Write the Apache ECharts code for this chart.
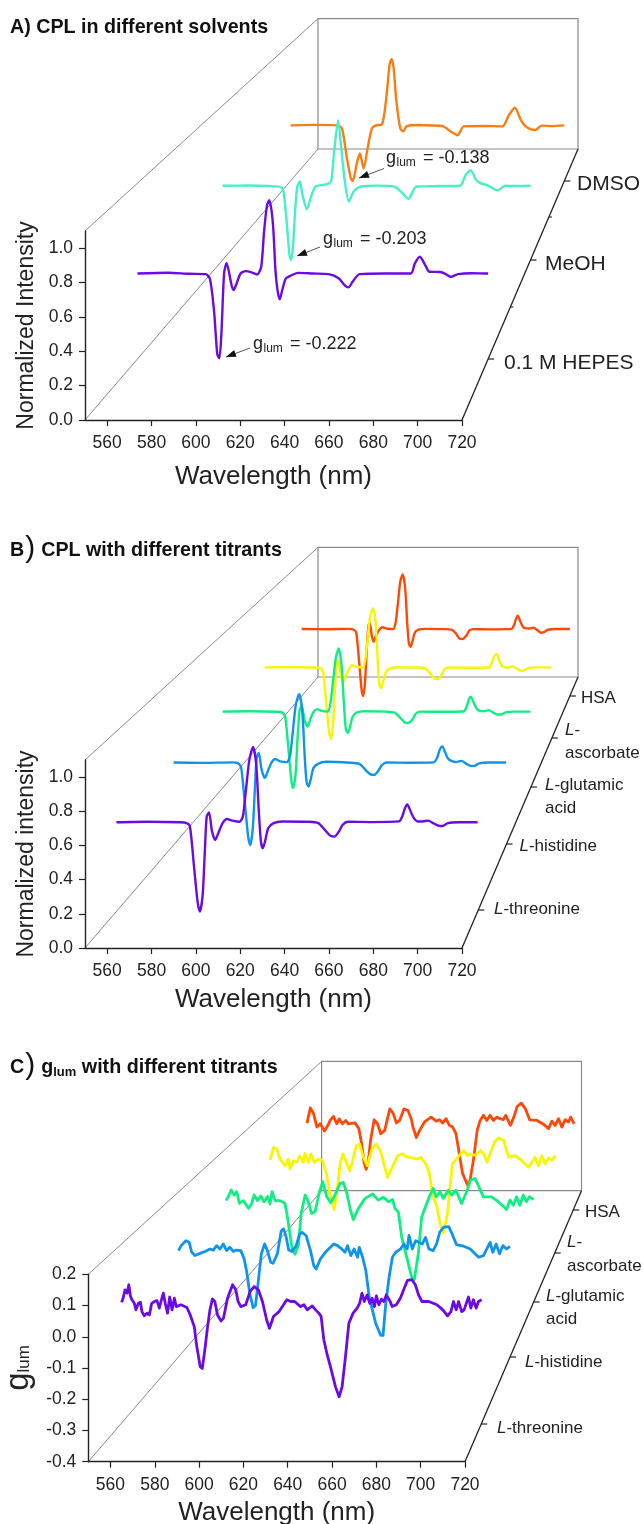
<!DOCTYPE html>
<html><head><meta charset="utf-8">
<style>html,body{margin:0;padding:0;background:#fff}#c{width:644px;height:1524px}</style>
<script src="https://cdn.jsdelivr.net/npm/echarts@6/dist/echarts.min.js"></script>
</head><body><div id="c"></div>
<script>
const xTicks=[560,580,600,620,640,660,680,700,720];
const intensityTicks=[0,0.2,0.4,0.6,0.8,1.0];
const glumTicks=[-0.4,-0.3,-0.2,-0.1,0,0.1,0.2];

// Panel A (wavelength nm, normalized intensity)
const hepes=[[550,.535],[565,.54],[575,.533],[583,.531],[585.1,.504],[587.1,.306],[588.7,.03],[589.7,.004],[590.7,.16],[592,.535],[593.2,.60],[594.2,.556],[595.6,.4625],[596.6,.431],[597.8,.4625],[600,.535],[602.4,.55],[605,.544],[608,.529],[610,.577],[611.4,.80],[612.8,.96],[613.9,.994],[615,.93],[615.9,.806],[616.9,.556],[617.9,.431],[619,.373],[620.2,.431],[621.9,.504],[623.9,.519],[627.8,.539],[635,.535],[642.7,.531],[647.7,.504],[650.5,.46],[652.3,.448],[654.3,.483],[657.7,.531],[670,.535],[682.5,.535],[684.5,.598],[686.9,.64],[689.5,.5875],[691.5,.546],[696.8,.544],[699.5,.531],[702,.514],[705.4,.531],[712,.537],[719.4,.535],[720,.535]];
const meoh=[[550,.529],[565,.531],[575,.527],[582.2,.519],[583.8,.476],[585.6,.238],[587,.03],[587.9,0],[588.9,.1],[589.9,.32],[591.2,.52],[592.7,.559],[594,.47],[596.5,.362],[599.2,.464],[601.4,.524],[608.3,.543],[610.1,.571],[611.7,.786],[613.8,.995],[615.6,.786],[617.4,.571],[619.7,.416],[622.4,.488],[626.5,.524],[635,.53],[644.7,.524],[649.2,.479],[652.6,.436],[657.1,.524],[670,.527],[681,.529],[684.3,.607],[687,.638],[690,.571],[692.3,.548],[696.9,.529],[701.9,.495],[706,.529],[713,.527],[720,.529]];
const dmso=[[550,.446],[565,.45],[578.9,.446],[582,.42],[585.2,.167],[587.5,.02],[588.6,0],[590,.06],[591.1,.14],[593.1,.22],[595.4,.10],[598,.273],[600.5,.42],[603,.446],[606.8,.454],[609.3,.645],[611.5,.93],[612.7,.977],[614,.91],[615.7,.645],[618.2,.42],[620,.398],[622,.438],[629.7,.449],[637,.445],[644.9,.438],[649.9,.393],[653.8,.367],[657.6,.438],[670,.441],[681.6,.438],[685.5,.526],[689.3,.587],[693.1,.486],[696.9,.428],[702,.409],[705.8,.444],[712,.44],[720,.446]];

// Panel B (wavelength nm, normalized intensity)
const cplThreonine=[[550,.545],[565,.548],[580,.545],[583,.54],[584.6,.52],[586.5,.28],[588.2,.06],[589.3,0],[590.6,.1],[591.6,.36],[592.5,.58],[593.6,.605],[595,.49],[596.5,.437],[598,.48],[600,.54],[602,.565],[604.5,.555],[608,.548],[609.5,.58],[610.8,.72],[612.5,.92],[614.3,1.005],[615.8,.9],[617,.62],[618,.43],[618.9,.386],[620,.43],[621.5,.51],[624,.54],[628,.55],[640,.548],[645,.54],[648,.50],[650.5,.465],[652.6,.457],[654.8,.49],[656.5,.53],[659,.548],[670,.546],[683,.55],[684.5,.58],[685.8,.63],[686.9,.654],[688.5,.61],[690,.57],[691.8,.55],[694,.55],[696.8,.555],[699,.54],[701.5,.525],[703.5,.522],[706,.54],[711,.545],[720,.545]];
const cplHistidine=[[550,.547],[565,.545],[580,.548],[583,.542],[584.6,.51],[586.5,.27],[588.2,.05],[589.2,0],[590.5,.11],[591.6,.38],[592.5,.58],[593.6,.61],[595,.50],[596.7,.445],[598.2,.49],[600,.545],[602,.57],[604.5,.555],[608,.55],[609.5,.59],[610.8,.73],[612.5,.93],[614.2,1.0],[615.8,.89],[617,.6],[618,.42],[619,.388],[620.2,.44],[621.5,.51],[624,.54],[628,.552],[640,.546],[645,.538],[648,.50],[650.5,.47],[652.6,.465],[654.8,.495],[656.5,.53],[659,.547],[670,.546],[683,.548],[684.8,.58],[686,.63],[687.4,.654],[689,.61],[690.5,.57],[692.3,.556],[694.5,.55],[697.2,.558],[699.5,.54],[701.8,.525],[703.8,.525],[706.2,.542],[711,.547],[720,.547]];
const cplGlutamic=[[550,.547],[565,.55],[580,.546],[583,.54],[584.6,.51],[586.5,.26],[588,.05],[589,0],[590.3,.1],[591.5,.38],[592.6,.56],[593.7,.59],[595.2,.49],[597,.44],[598.6,.50],[600.5,.55],[602.3,.565],[604.5,.552],[608,.548],[609.5,.6],[610.8,.74],[612.5,.93],[614.1,1.0],[615.7,.88],[617,.6],[618.1,.42],[619.2,.395],[620.4,.44],[621.8,.51],[624,.54],[628,.55],[640,.547],[645,.54],[648,.505],[650.5,.47],[652.5,.466],[654.8,.49],[656.5,.53],[659,.547],[670,.546],[683,.548],[684.8,.585],[686,.635],[687,.654],[688.7,.61],[690.2,.57],[692,.552],[694.5,.55],[697,.558],[699.5,.54],[701.8,.526],[703.8,.526],[706.2,.542],[711,.547],[720,.547]];
const cplAscorbate=[[550,.551],[565,.553],[580,.55],[583,.545],[584.6,.52],[586.5,.27],[588.2,.05],[589.3,0],[590.5,.11],[591.6,.37],[592.6,.58],[593.6,.60],[595.2,.49],[596.5,.44],[598.2,.49],[600,.54],[602,.567],[604.5,.556],[608,.55],[609.5,.6],[610.8,.74],[612.5,.94],[614.2,1.005],[615.8,.89],[617,.6],[618,.42],[619,.39],[620.2,.44],[621.7,.51],[624,.54],[628,.552],[640,.55],[645,.544],[648,.505],[650.5,.468],[652.6,.46],[654.8,.492],[656.5,.535],[659,.55],[670,.548],[683,.55],[684.6,.585],[686,.635],[687.6,.654],[689.2,.6],[690.7,.56],[692.3,.552],[694.5,.55],[697,.56],[699.5,.54],[701.8,.525],[703.8,.526],[706,.545],[711,.551],[720,.551]];
const cplHsa=[[550,.551],[565,.549],[580,.552],[583,.545],[584.6,.52],[586.5,.27],[588,.05],[589,0],[590.2,.12],[591.3,.4],[592.4,.58],[593.2,.60],[594.4,.5],[595.6,.447],[597.2,.5],[599,.54],[601,.565],[604.5,.553],[608,.55],[609.5,.6],[610.8,.74],[612.5,.94],[614,1.0],[615.6,.89],[616.9,.6],[618,.43],[619,.405],[620.2,.45],[621.7,.52],[624,.545],[628,.552],[640,.55],[645,.545],[648,.51],[650,.472],[652,.469],[654.3,.495],[656.3,.54],[659,.55],[670,.548],[683,.552],[684.8,.59],[686,.64],[687,.66],[688.7,.61],[690.2,.57],[692,.556],[694.5,.555],[697,.562],[699.5,.54],[701.7,.52],[703.8,.528],[706,.545],[711,.551],[720,.551]];

// Panel C (wavelength nm, g_lum)
const gThreonine=[[550,.004],[550.7,.018],[551.6,.046],[552.6,.035],[553.4,.063],[554.2,.024],[554.9,.013],[556,.001],[556.8,-.021],[557.9,.001],[558.9,.004],[559.6,-.027],[560.7,-.041],[562,-.032],[563.1,-.038],[564.2,.001],[565.5,.007],[566.7,.010],[567.8,-.015],[568.6,.007],[569.7,.035],[570.6,.001],[571.7,-.032],[572.7,.022],[573.8,-.021],[574.9,.018],[575.8,-.010],[578,-.004],[580.8,-.013],[582.4,-.038],[584.3,-.077],[585.5,-.144],[587.1,-.211],[588.1,-.217],[589.3,-.155],[590.6,-.077],[591.7,-.021],[592.9,.016],[594,.007],[595.3,-.038],[596.9,-.058],[598.1,-.049],[600,.018],[602.4,.063],[603.9,.046],[605,.007],[606.3,-.010],[608.6,-.004],[610.7,.041],[612.6,.057],[614.6,.046],[616.5,.007],[618.5,-.055],[619.8,-.083],[621.7,-.043],[624.3,-.027],[628,.013],[629.8,.007],[631.7,.007],[634.5,-.010],[636.1,-.004],[637.6,-.021],[640,-.008],[641.6,-.021],[643.1,-.032],[644.2,-.043],[645.5,-.122],[647.1,-.172],[648.6,-.211],[651,-.279],[652.7,-.312],[654.1,-.279],[655.7,-.178],[657.3,-.066],[659.3,-.032],[661.2,-.015],[662.4,.001],[663.5,.035],[664.6,.007],[665.9,.029],[667.2,.001],[668.3,.018],[669.4,-.010],[670.3,.026],[671.5,-.004],[672.7,.015],[673.8,.007],[675,.029],[676.6,.010],[677.8,-.010],[679.7,-.004],[681.6,.018],[683.5,.052],[685,.078],[687.1,.080],[688.7,.063],[690.2,.029],[691.8,.007],[695,.007],[698.9,-.004],[701.7,-.021],[703.9,-.041],[705.5,-.027],[706.7,.007],[708,-.021],[709.1,.007],[710.6,-.027],[711.7,-.021],[713.8,.022],[714.9,-.015],[716.1,.013],[717.4,-.015],[718.5,.007],[720,.013]];
const gHistidine=[[550,-.013],[551.4,.005],[553.8,.023],[555.5,.017],[556.8,-.019],[558.5,-.031],[561.1,-.023],[563.6,-.016],[566.2,-.007],[567.9,-.011],[569.6,.005],[571.3,-.007],[573,.011],[574.7,-.013],[576.4,-.001],[578.1,-.016],[579.8,-.011],[582,-.013],[583.7,-.043],[584.9,-.086],[586.6,-.170],[588.3,-.221],[589.5,-.213],[590.8,-.134],[592.5,-.025],[594.2,.011],[595.6,-.013],[597.3,-.055],[598.5,-.059],[600.7,-.025],[602.7,.059],[603.9,.066],[605.3,.035],[606.5,-.011],[608.2,-.016],[610.4,.005],[612.1,.047],[613.4,.053],[615.5,.041],[617.7,-.013],[619.4,-.068],[620.6,-.080],[622.8,-.043],[625.7,-.016],[629.6,.011],[631.6,.005],[633.7,-.007],[635.4,-.019],[636.7,.005],[638.4,-.031],[640.1,-.007],[641.8,-.037],[642.7,-.001],[644.4,-.037],[646.1,-.086],[647.8,-.182],[651.2,-.279],[653.7,-.321],[654.9,-.321],[656.3,-.206],[658,-.110],[659.7,-.037],[661.4,-.019],[663.9,-.007],[665.6,.011],[667.3,-.007],[668.2,.042],[669.9,-.007],[671.6,.023],[673.3,.017],[675,.011],[676.7,.035],[678.4,-.007],[680.6,-.013],[682.3,.011],[684,.054],[686,.072],[688.6,.074],[690.3,.048],[692.5,.009],[696.2,.003],[699.6,-.007],[703.9,-.037],[706.4,-.031],[708.1,-.007],[709.8,.017],[711.2,-.019],[712.9,.011],[714.6,-.025],[716.3,.005],[718.3,-.007],[720,.002]];
const gGlutamic=[[550,-.004],[551.3,.012],[552.8,.038],[554.5,.018],[555.9,.031],[557.4,-.015],[559.6,-.004],[562.4,-.034],[564.2,-.015],[565.5,.018],[567.3,-.004],[569.2,.014],[571,-.008],[572.9,.012],[574.3,-.017],[575.4,.031],[577.1,-.004],[579.9,-.004],[582.6,-.015],[583.9,-.067],[585,-.120],[586.3,-.185],[588.1,-.214],[590,-.178],[591.5,-.054],[593.7,.018],[595.1,-.002],[597.3,-.054],[599.2,-.047],[601.4,.025],[603.4,.070],[605.6,.012],[607.8,-.012],[610.2,.018],[613,.064],[614.8,.067],[616.7,.025],[618.5,-.034],[620.3,-.078],[623.1,-.035],[626.8,.005],[631,.022],[634.1,-.002],[636.9,.009],[639.7,-.008],[642,.001],[643.3,-.035],[645.2,-.048],[647,-.146],[649.8,-.225],[652.5,-.303],[654,-.314],[656.2,-.212],[658.1,-.067],[660.5,-.022],[662.7,.018],[664.5,.044],[666,.011],[668.2,.031],[670,.005],[672.8,.037],[674.6,.018],[677,.037],[680.1,-.015],[682.9,.031],[685.1,.077],[687.5,.083],[689.3,.057],[692.1,.011],[696.7,.011],[700.4,-.008],[705,-.039],[706.8,-.002],[708.7,-.022],[710.5,.011],[712.3,-.022],[714.2,.018],[716,-.008],[717.5,.011],[720,.001]];
const gAscorbate=[[550.3,-.016],[552.3,.037],[554.2,.030],[556.2,-.012],[559.2,-.040],[561.1,-.012],[562.1,-.054],[564.1,-.019],[566.1,-.026],[568,.002],[570,-.026],[571,.012],[573,-.026],[574.5,.009],[576.5,-.026],[578.9,-.012],[581.4,-.019],[583.8,-.075],[585.8,-.159],[588.3,-.226],[590.1,-.145],[592,-.026],[593.6,.009],[595.6,-.026],[597.6,-.061],[599.1,-.026],[601.5,.044],[603.5,.051],[605.4,.002],[608,-.04],[610.8,.030],[613.3,.051],[615.9,.023],[618.2,-.040],[620,-.09],[622.7,-.050],[626.1,.002],[629,.01],[631,-.002],[637.9,-.012],[639.9,-.005],[642.9,-.033],[644.8,-.068],[646.8,-.159],[649.4,-.215],[651.5,-.29],[653.3,-.324],[655.7,-.243],[658.6,-.033],[661.2,-.012],[663.5,.010],[665.5,.024],[667.5,.003],[669.4,.010],[672.4,.003],[675.4,.024],[677.3,.010],[679.3,-.026],[681.3,.016],[684.2,.066],[686.2,.077],[689.1,.066],[692.1,-.004],[696,.002],[700,-.019],[703.9,-.047],[705.9,-.026],[707.8,-.005],[709.8,-.04],[711.8,.002],[713.7,-.033],[715.7,-.008],[717.7,-.016],[720,.002]];
const gHsa=[[550.2,-.017],[552.3,.052],[554.4,.025],[556.5,-.035],[558.6,-.020],[561.3,-.053],[563.4,-.028],[564.9,-.005],[567,.013],[569.1,-.020],[570.6,.002],[572.7,-.020],[574.8,-.005],[576.5,-.020],[580.7,-.016],[583.2,-.042],[584.9,-.109],[586.6,-.199],[587.8,-.226],[589.1,-.191],[590.6,-.095],[592.9,-.002],[595,-.020],[597.1,-.065],[599.6,-.050],[602.8,.047],[604.9,.028],[607,-.016],[609.1,-.005],[611.8,.047],[614.4,.04],[616.5,.002],[617.6,-.035],[619.7,-.082],[621.8,-.050],[624.9,-.012],[629.1,.010],[632.3,-.008],[634.4,-.002],[636.5,-.017],[638.6,.003],[640.7,-.027],[642.8,-.035],[644.9,-.064],[647,-.154],[649.1,-.244],[652.2,-.296],[653.9,-.274],[656,-.184],[658.4,-.05],[660.3,-.005],[662.4,.018],[664.5,-.005],[666.6,.018],[668.7,-.005],[670.8,.010],[672.9,.003],[675,-.002],[676.5,.018],[679.6,-.027],[681.7,.010],[683.8,.058],[686.4,.073],[689.1,.047],[691.8,-.002],[696.5,-.005],[700.7,-.023],[703.8,-.042],[705.9,-.008],[708,-.027],[710.1,.003],[712.2,-.035],[714.3,-.002],[716.4,-.012],[717.9,.010],[720,-.02]];

const FONT='"Liberation Sans",Arial,sans-serif';
const cPurple='#6a0ae6',cBlue='#0f94ee',cGreen='#0cf080',cYellow='#f6f600',cRed='#ff4808',cOrange='#fb7d12',cCyan='#45efc8';

const panelA={x0:85,x1:462,bx0:318,bx1:578,fy:420,by:149,h:189,ymin:0,ymax:1.1,ticks:intensityTicks,name:'Normalized Intensity',smooth:.25,lw:2.4,nameFont:23,xnameFont:26,xGap:44};
const panelB={x0:85,x1:462,bx0:318,bx1:578,fy:948,by:677,h:188,ymin:0,ymax:1.1,ticks:intensityTicks,name:'Normalized intensity',smooth:.25,lw:2.4,nameFont:23,xnameFont:26,xGap:39};
const panelC={x0:88.3,x1:465,bx0:321.6,bx1:581.5,fy:1461.7,by:1190.7,h:187.4,ymin:-0.4,ymax:0.2,ticks:glumTicks,name:'{g|g}{l|lum}',smooth:false,lw:2.8,nameFont:26,xnameFont:26,xGap:38};

const grid=[],xAxis=[],yAxis=[],series=[],graphic=[];
function line(x1,y1,x2,y2,stroke,w){graphic.push({type:'line',silent:true,z:0,shape:{x1,y1,x2,y2},style:{stroke,lineWidth:w}});}
function hiddenGrid(p,l,t,w,h){
  grid.push({left:l,top:t,width:w,height:h,outerBoundsMode:'none'});
  xAxis.push({type:'value',gridIndex:grid.length-1,min:550,max:720,show:false});
  yAxis.push({type:'value',gridIndex:grid.length-1,min:p.ymin,max:p.ymax,show:false});
}
function trace(p,data,floorY,color){
  const f=(p.fy-floorY)/(p.fy-p.by);
  const l=p.x0+f*(p.bx0-p.x0), r=p.x1+f*(p.bx1-p.x1), w=r-l, h=p.h*w/(p.x1-p.x0);
  hiddenGrid(p,l,floorY-h,w,h);
  const i=grid.length-1;
  series.push({type:'line',xAxisIndex:i,yAxisIndex:i,data,showSymbol:false,smooth:p.smooth,clip:false,z:3,lineStyle:{color,width:p.lw,join:'round'},silent:true});
}
function frame(p,traces,zTicks,minorTicks){
  const bw=p.bx1-p.bx0,bh=p.h*bw/(p.x1-p.x0);
  grid.push({left:p.bx0,top:p.by-bh,width:bw,height:bh,show:true,borderColor:'#8a8a8a',borderWidth:1.2,backgroundColor:'transparent',z:0,outerBoundsMode:'none'});
  xAxis.push({type:'value',gridIndex:grid.length-1,min:550,max:720,show:false});
  yAxis.push({type:'value',gridIndex:grid.length-1,min:p.ymin,max:p.ymax,show:false});
  line(p.x0,p.fy,p.bx0,p.by,'#8a8a8a',1);
  line(p.x0,p.fy-p.h,p.bx0,p.by-bh,'#8a8a8a',1);
  line(p.x1,p.fy,p.bx1,p.by,'#222',1.3);
  const xAt=y=>p.x1+(p.fy-y)/(p.fy-p.by)*(p.bx1-p.x1);
  zTicks.forEach(y=>line(xAt(y),y,xAt(y)+6,y,'#222',1.2));
  minorTicks.forEach(y=>line(xAt(y),y,xAt(y)+3,y,'#222',1.1));
  traces.forEach(t=>trace(p,t[0],t[1],t[2]));
  grid.push({left:p.x0,top:p.fy-p.h,width:p.x1-p.x0,height:p.h,z:4,outerBoundsMode:'none'});
  const isRich=p.name.indexOf('{')===0;
  xAxis.push({type:'value',gridIndex:grid.length-1,min:550,max:720,
    axisLine:{show:true,onZero:false,lineStyle:{color:'#222',width:1.4}},
    axisTick:{show:true,customValues:xTicks,length:6,lineStyle:{color:'#222',width:1.2}},
    axisLabel:{customValues:xTicks,color:'#222',fontSize:17.5,fontFamily:FONT,margin:14},
    splitLine:{show:false},
    name:'Wavelength (nm)',nameLocation:'middle',nameGap:p.xGap,
    nameTextStyle:{color:'#222',fontSize:p.xnameFont,fontFamily:FONT}});
  yAxis.push({type:'value',gridIndex:grid.length-1,min:p.ymin,max:p.ymax,
    axisLine:{show:true,onZero:false,lineStyle:{color:'#222',width:1.4}},
    axisTick:{show:true,customValues:p.ticks,length:6,lineStyle:{color:'#222',width:1.2}},
    axisLabel:{customValues:p.ticks,color:'#222',fontSize:17.5,fontFamily:FONT,margin:12,formatter:v=>Number(v).toFixed(1)},
    splitLine:{show:false},
    name:p.name,nameLocation:'middle',nameGap:isRich?40:43,nameRotate:90,
    nameTextStyle:{color:'#222',fontSize:p.nameFont,fontFamily:FONT,
      rich:{g:{fontSize:33,fontFamily:FONT,color:'#222'},l:{fontSize:17,fontFamily:FONT,color:'#222',padding:[12,0,0,0]}}}});
}
frame(panelA,[[dmso,181,cOrange],[meoh,260,cCyan],[hepes,359,cPurple]],[181,260,359],[217,307]);
frame(panelB,[[cplHsa,696,cRed],[cplAscorbate,739,cYellow],[cplGlutamic,788,cGreen],[cplHistidine,845,cBlue],[cplThreonine,911.5,cPurple]],[696,738,787,844,910],[]);
frame(panelC,[[gHsa,1208,cRed],[gAscorbate,1251,cYellow],[gGlutamic,1301.7,cGreen],[gHistidine,1357,cBlue],[gThreonine,1423,cPurple]],[1210,1253,1302,1357,1424],[]);

function label(text,x,y,size){
  graphic.push({type:'text',silent:true,z:5,x,y,style:{text,fill:'#222',font:size+'px '+FONT,verticalAlign:'middle',align:'left',
    rich:{i:{fontStyle:'italic',fontSize:size,fontFamily:FONT,fill:'#222'},n:{fontSize:size,fontFamily:FONT,fill:'#222'}}}});
}
label('DMSO',577,184,21);label('MeOH',545,264,21);label('0.1 M HEPES',504,363,21);
label('HSA',581,698,17);label('{i|L}{n|-}',565,730,17);label('ascorbate',565,753,17);label('{i|L}{n|-glutamic}',545,785,17);label('acid',545,808,17);label('{i|L}{n|-histidine}',519.5,846,17);label('{i|L}{n|-threonine}',494,909,17);
label('HSA',585,1212,17);label('{i|L}{n|-}',567,1242,17);label('ascorbate',567,1266,17);label('{i|L}{n|-glutamic}',546,1296,17);label('acid',546,1319,17);label('{i|L}{n|-histidine}',525,1362,17);label('{i|L}{n|-threonine}',497,1428,17);

function glum(val,x,y,hx,hy,tx,ty){
  graphic.push({type:'text',silent:true,z:5,x,y,style:{text:'g',fill:'#222',font:'18px '+FONT,verticalAlign:'middle'}});
  graphic.push({type:'text',silent:true,z:5,x:x+10.5,y:y+5,style:{text:'lum',fill:'#222',font:'12px '+FONT,verticalAlign:'middle'}});
  graphic.push({type:'text',silent:true,z:5,x:x+37,y,style:{text:'= '+val,fill:'#222',font:'18px '+FONT,verticalAlign:'middle'}});
  line(hx,hy,tx,ty,'#555',1);
  const dx=tx-hx,dy=ty-hy,d=Math.hypot(dx,dy),ux=dx/d,uy=dy/d,L=10,W=3.6;
  graphic.push({type:'polygon',silent:true,z:5,shape:{points:[[hx,hy],[hx+ux*L-uy*W,hy+uy*L+ux*W],[hx+ux*L+uy*W,hy+uy*L-ux*W]]},style:{fill:'#111'}});
}
glum('-0.138',386,158,359,178,384,168.5);
glum('-0.203',323,239,297,256,320,247);
glum('-0.222',253,344,226,357,250,348);

const titleRich={b:{fontWeight:'bold',fontSize:19.7,fontFamily:FONT,color:'#111'},p:{fontSize:30,fontWeight:'normal',fontFamily:FONT,color:'#111',padding:[0,6,3,1]},s:{fontWeight:'bold',fontSize:13,fontFamily:FONT,color:'#111',padding:[10,0,0,0]}};
const title=[
  {text:'{b|A) CPL in different solvents}',left:5,top:13},
  {text:'{b|B}{p|)}{b|CPL with different titrants}',left:5,top:529},
  {text:'{b|C}{p|)}{b|g}{s|lum}{b| with different titrants}',left:5,top:1046}
].map(t=>Object.assign(t,{textStyle:{rich:titleRich}}));

echarts.init(document.getElementById('c'),null,{renderer:'canvas'}).setOption({
  animation:false,backgroundColor:'#fff',title,grid,xAxis,yAxis,series,graphic
});
</script></body></html>
